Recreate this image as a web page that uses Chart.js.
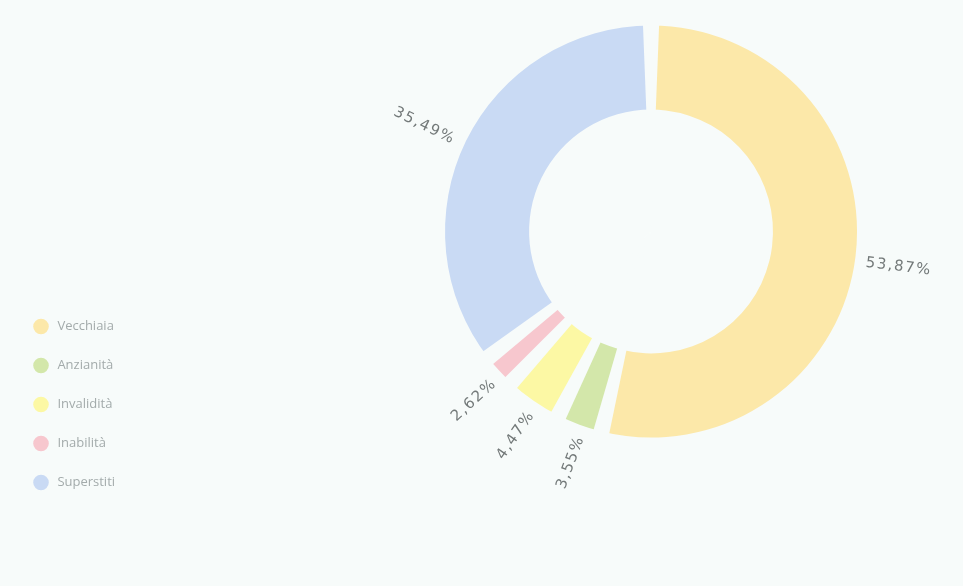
<!DOCTYPE html>
<html>
<head>
<meta charset="utf-8">
<script src="https://cdn.jsdelivr.net/npm/chart.js@4/dist/chart.umd.min.js"></script>
<style>
  html, body { margin: 0; padding: 0; background: #f7fbfa; overflow: hidden; }
  #wrap { position: relative; width: 963px; height: 586px; overflow: hidden; }
  #c { position: absolute; left: 0; top: -52px; }
</style>
</head>
<body>
<div id="wrap"><canvas id="c" width="1177" height="567"></canvas></div>
<script>
const categories = ['Vecchiaia', 'Anzianità', 'Invalidità', 'Inabilità', 'Superstiti'];
const shares = [53.87, 3.55, 4.47, 2.62, 35.49];
const sliceColors = ['#fce8a9', '#d3e7aa', '#fcf8a4', '#f7c7ce', '#c9daf4'];
const bgColor = '#f7fbfa';

const fmt = v => v.toFixed(2).replace('.', ',') + '%';

const gapAngle = 0.078; // angular gap between slices (radians)

const sliceDecor = {
  id: 'sliceDecor',
  afterDatasetsDraw(chart) {
    const meta = chart.getDatasetMeta(0);
    const ctx = chart.ctx;
    // angular gaps between slices
    ctx.save();
    ctx.fillStyle = bgColor;
    meta.data.forEach(arc => {
      const p = arc.getProps(['x', 'y', 'startAngle', 'outerRadius'], true);
      const r = p.outerRadius + 4;
      const a = p.startAngle;
      ctx.beginPath();
      ctx.moveTo(p.x, p.y);
      ctx.lineTo(p.x + Math.cos(a - gapAngle / 2) * r, p.y + Math.sin(a - gapAngle / 2) * r);
      ctx.lineTo(p.x + Math.cos(a + gapAngle / 2) * r, p.y + Math.sin(a + gapAngle / 2) * r);
      ctx.closePath();
      ctx.fill();
    });
    ctx.restore();

    // radial percentage labels
    ctx.save();
    ctx.font = '15px "DejaVu Sans"';
    ctx.fillStyle = '#737979';
    ctx.textBaseline = 'middle';
    try { ctx.letterSpacing = '1.5px'; } catch (e) {}
    meta.data.forEach((arc, i) => {
      const p = arc.getProps(['x', 'y', 'startAngle', 'endAngle', 'outerRadius'], true);
      const mid = (p.startAngle + p.endAngle) / 2;
      const d = p.outerRadius + 11;
      const x = p.x + Math.cos(mid) * d;
      const y = p.y + Math.sin(mid) * d;
      let rot = mid;
      let align = 'left';
      if (Math.cos(mid) < 0) { rot += Math.PI; align = 'right'; }
      ctx.save();
      ctx.translate(x, y);
      ctx.rotate(rot);
      ctx.textAlign = align;
      ctx.fillText(fmt(shares[i]), 0, 5);
      ctx.restore();
    });
    ctx.restore();
  }
};

new Chart(document.getElementById('c'), {
  type: 'doughnut',
  data: {
    labels: categories,
    datasets: [{
      data: shares,
      backgroundColor: sliceColors,
      borderWidth: 0,
      hoverOffset: 0
    }]
  },
  options: {
    responsive: false,
    animation: false,
    radius: 206,
    cutout: '59.2%',
    layout: { padding: { left: 8.5, top: 0, bottom: 0, right: 0 } },
    plugins: {
      tooltip: { enabled: false },
      legend: {
        position: 'left',
        align: 'end',
        labels: {
          usePointStyle: true,
          pointStyle: 'circle',
          boxHeight: 11,
          padding: 26,
          color: '#a3abab',
          font: { family: '"Open Sans"', size: 13 },
          generateLabels(chart) {
            const items = Chart.overrides.doughnut.plugins.legend.labels.generateLabels(chart);
            items.forEach(it => { it.text = ' ' + it.text; it.lineWidth = 0; });
            return items;
          }
        }
      }
    }
  },
  plugins: [sliceDecor]
});
</script>
</body>
</html>
